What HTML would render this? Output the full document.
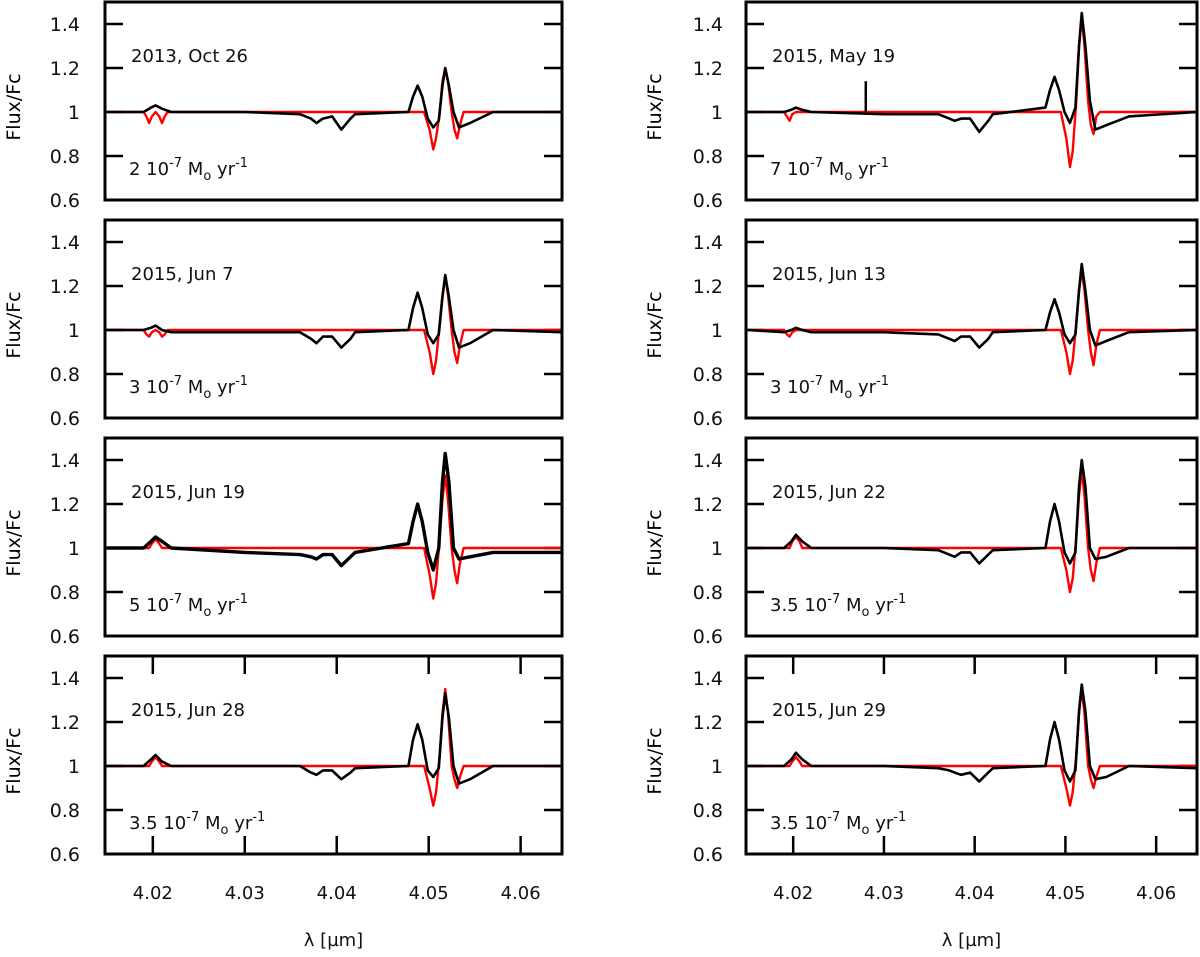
<!DOCTYPE html>
<html><head><meta charset="utf-8"><style>
body{margin:0;background:#fff;}
svg{font-family:"DejaVu Sans","Liberation Sans",sans-serif;}
</style></head><body>
<svg id="c" width="1200" height="952"></svg>
<script>
const titles=["2013, Oct 26","2015, May 19","2015, Jun 7","2015, Jun 13","2015, Jun 19","2015, Jun 22","2015, Jun 28","2015, Jun 29"];
const rates=["2","7","3","3","5","3.5","3.5","3.5"];
const blackX=[4.015,4.019,4.0198,4.0203,4.0210,4.022,4.030,4.036,4.0372,4.0378,4.0385,4.0395,4.0405,4.0415,4.042,4.0478,4.0483,4.0488,4.0493,4.0499,4.0505,4.0511,4.0515,4.0518,4.0522,4.0527,4.0533,4.0545,4.057,4.0645];
const blackY=[
[1,1,1.02,1.03,1.015,1,1,0.99,0.97,0.95,0.97,0.98,0.92,0.97,0.99,1.0,1.07,1.12,1.07,0.97,0.93,0.96,1.12,1.2,1.12,1.0,0.93,0.95,1.0,1.0],
[1,1,1.01,1.02,1.01,1,0.99,0.99,0.97,0.96,0.97,0.97,0.91,0.96,0.99,1.02,1.1,1.16,1.1,1.0,0.95,1.02,1.3,1.45,1.3,1.05,0.92,0.94,0.98,1.0],
[1,1,1.01,1.02,1.0,0.99,0.99,0.99,0.96,0.94,0.97,0.97,0.92,0.96,0.99,1.0,1.1,1.17,1.1,0.98,0.94,0.98,1.15,1.25,1.15,1.0,0.92,0.94,1.0,0.99],
[1,0.99,1.0,1.01,1.0,0.99,0.99,0.98,0.96,0.95,0.97,0.97,0.92,0.96,0.99,1.0,1.08,1.14,1.08,0.98,0.94,0.98,1.18,1.3,1.18,1.0,0.93,0.95,0.99,1.0],
[1,1,1.03,1.05,1.03,1,0.98,0.97,0.96,0.95,0.97,0.97,0.92,0.96,0.98,1.02,1.12,1.2,1.12,0.98,0.9,1.0,1.3,1.43,1.3,1.0,0.95,0.96,0.98,0.98],
[1,1,1.03,1.06,1.03,1,1,0.99,0.97,0.96,0.98,0.98,0.93,0.97,0.99,1.0,1.12,1.2,1.12,0.98,0.93,0.98,1.28,1.4,1.28,1.0,0.95,0.96,1.0,1.0],
[1,1,1.03,1.05,1.02,1,1,1.0,0.97,0.96,0.98,0.98,0.94,0.97,0.99,1.0,1.12,1.19,1.12,0.98,0.95,0.99,1.22,1.33,1.22,1.0,0.92,0.94,1.0,1.0],
[1,1,1.03,1.06,1.03,1,1,0.99,0.98,0.97,0.96,0.97,0.93,0.97,0.99,1.0,1.12,1.2,1.12,0.98,0.93,0.98,1.25,1.37,1.25,1.0,0.94,0.95,1.0,0.99]];
const redX=[4.015,4.019,4.0193,4.0196,4.0199,4.0203,4.0207,4.0210,4.0213,4.0216,4.0495,4.0501,4.0505,4.0508,4.0512,4.0515,4.0518,4.0521,4.0525,4.0528,4.0531,4.0534,4.0538,4.0645];
const redY=[
[1,1,0.98,0.95,0.98,1,0.98,0.95,0.98,1,1,0.92,0.83,0.88,1.0,1.14,1.2,1.14,1.0,0.92,0.88,0.94,1,1],
[1,1,0.98,0.96,0.99,1,1,1,1,1,1,0.88,0.75,0.82,1.05,1.3,1.43,1.3,1.05,0.94,0.9,0.98,1.0,1],
[1,1,0.98,0.97,0.99,1,0.99,0.97,0.98,1,1,0.9,0.8,0.86,1.03,1.16,1.24,1.16,1.0,0.9,0.85,0.93,1,1],
[1,1,0.98,0.97,0.99,1,1,1,1,1,1,0.9,0.8,0.86,1.03,1.18,1.27,1.18,1.0,0.9,0.84,0.93,1,1],
[1,1,1,1,1.02,1.04,1.02,1,1,1,1,0.88,0.77,0.84,1.05,1.22,1.33,1.22,1.0,0.9,0.84,0.93,1,1],
[1,1,1,1,1.03,1.05,1.03,1,1,1,1,0.9,0.8,0.86,1.05,1.24,1.35,1.24,1.0,0.9,0.85,0.93,1,1],
[1,1,1,1,1.02,1.04,1.02,1,1,1,1,0.9,0.82,0.88,1.05,1.24,1.35,1.24,1.0,0.94,0.9,0.95,1,1],
[1,1,1,1,1.02,1.04,1.02,1,1,1,1,0.9,0.82,0.88,1.05,1.24,1.35,1.24,1.0,0.94,0.9,0.95,1,1]];
const spikeX=4.028, spikeY=1.14;
const yTicks=[0.6,0.8,1,1.2,1.4];
const yTickLabels=["0.6","0.8","1","1.2","1.4"];
const xTicks=[4.02,4.03,4.04,4.05,4.06];
const xTickLabels=["4.02","4.03","4.04","4.05","4.06"];

const NS="http://www.w3.org/2000/svg";
const svg=document.getElementById('c');
function mk(t,a,p){const e=document.createElementNS(NS,t);for(const k in a)e.setAttribute(k,a[k]);(p||svg).appendChild(e);return e;}
const cols=[{l:105,r:562,lab:80,yl:14},{l:746,r:1197,lab:723,yl:655}];
const tops=[2,220,438,656], H=198;
for(let i=0;i<8;i++){
  const c=cols[i%2], top=tops[Math.floor(i/2)];
  const sx=v=>c.l+(v-4.0148)/(4.0645-4.0148)*(c.r-c.l);
  const sy=v=>top+(1.5-v)/0.9*H;
  const g=mk('g',{});
  
  
  yTicks.forEach((t,k)=>{
    const tl=mk('text',{x:c.lab,y:sy(t)+7,'text-anchor':'end','font-size':19,fill:'#111'},g);
    tl.textContent=yTickLabels[k];
    
    
    mk('line',{x1:c.l,x2:c.l+18,y1:sy(t),y2:sy(t),stroke:'#000','stroke-width':2.5},g);
    mk('line',{x1:c.r-18,x2:c.r,y1:sy(t),y2:sy(t),stroke:'#000','stroke-width':2.5},g);
  });
  const yl=mk('text',{x:c.yl,y:top+H/2,'text-anchor':'middle','font-size':19,transform:`rotate(-90 ${c.yl+6} ${top+H/2})`},g);
  yl.textContent='Flux/Fc';
  
  
  const rp=mk('polyline',{points:redX.map((x,k)=>sx(x)+','+sy(redY[i][k])).join(' '),fill:'none',stroke:'#f00','stroke-width':2.4,'stroke-linejoin':'round'},g);
  
  
  const bp=mk('polyline',{points:blackX.map((x,k)=>sx(x)+','+sy(blackY[i][k])).join(' '),fill:'none',stroke:'#000','stroke-width':i==4?3.4:2.6,'stroke-linejoin':'round'},g);
  
  
  if(i==1){const s=mk('line',{x1:sx(spikeX),x2:sx(spikeX),y1:sy(1),y2:sy(spikeY),stroke:'#000','stroke-width':2.5},g);
    }
  const dt=mk('text',{x:c.l+26,y:top+60,'font-size':18,fill:'#111'},g);
  dt.textContent=titles[i];
  
  
  const rt=mk('text',{x:c.l+24,y:top+173,'font-size':18,fill:'#111'},g);
  rt.innerHTML=rates[i]+' 10<tspan dy="-8" font-size="13">-7</tspan><tspan dy="8"> M</tspan><tspan dy="5" font-size="13">o</tspan><tspan dy="-5"> yr</tspan><tspan dy="-8" font-size="13">-1</tspan>';
  
  
  const fr=mk('rect',{x:c.l,y:top,width:c.r-c.l,height:H,fill:'none',stroke:'#000','stroke-width':3},g);
  
  
  if(i>=6){
    xTicks.forEach((t,k)=>{
      mk('line',{x1:sx(t),x2:sx(t),y1:top+H,y2:top+H-18,stroke:'#000','stroke-width':2.5},g);
      mk('line',{x1:sx(t),x2:sx(t),y1:top,y2:top+18,stroke:'#000','stroke-width':2.5},g);
      const xl=mk('text',{x:sx(t),y:top+H+45,'text-anchor':'middle','font-size':18,fill:'#111'},g);
      xl.textContent=xTickLabels[k];
      
      
    });
    const xt=mk('text',{x:(c.l+c.r)/2,y:946,'text-anchor':'middle','font-size':18,fill:'#111'},g);
    xt.textContent='λ [µm]';
    
    
  }
}
</script>
</body></html>
